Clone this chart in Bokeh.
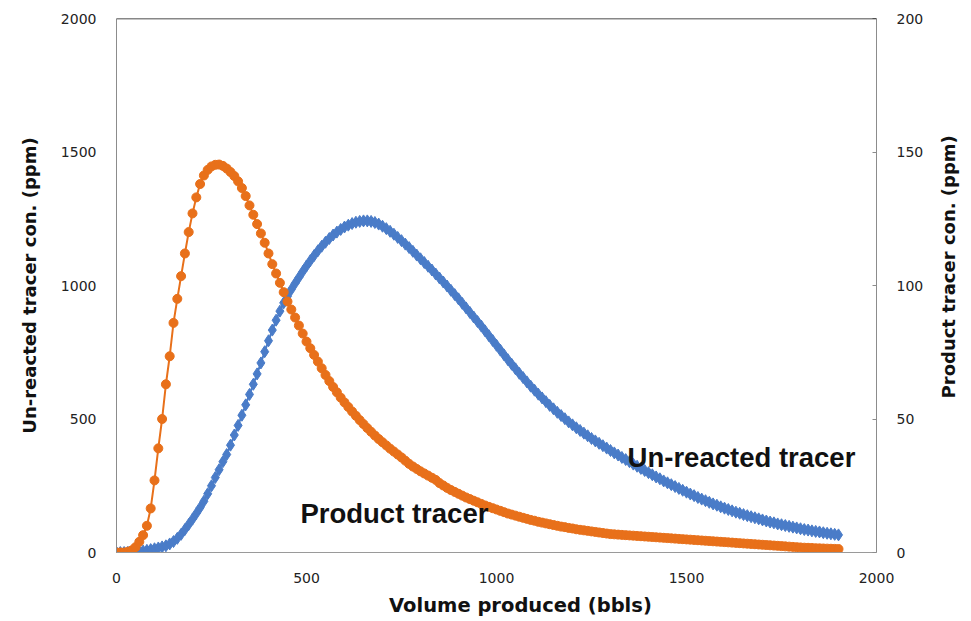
import math
from bokeh.plotting import figure
from bokeh.models import LinearAxis, Range1d, Label, Span, FixedTicker
from bokeh.embed import file_html
from bokeh.resources import INLINE

# ---- data ----
volume = [0, 10, 20, 30, 40, 50, 60, 70, 80, 90,
          100, 110, 120, 130, 140, 150, 160, 170, 180, 190,
          200, 210, 220, 230, 240, 250, 260, 270, 280, 290,
          300, 310, 320, 330, 340, 350, 360, 370, 380, 390,
          400, 410, 420, 430, 440, 450, 460, 470, 480, 490,
          500, 510, 520, 530, 540, 550, 560, 570, 580, 590,
          600, 610, 620, 630, 640, 650, 660, 670, 680, 690,
          700, 710, 720, 730, 740, 750, 760, 770, 780, 790,
          800, 810, 820, 830, 840, 850, 860, 870, 880, 890,
          900, 910, 920, 930, 940, 950, 960, 970, 980, 990,
          1000, 1010, 1020, 1030, 1040, 1050, 1060, 1070, 1080, 1090,
          1100, 1110, 1120, 1130, 1140, 1150, 1160, 1170, 1180, 1190,
          1200, 1210, 1220, 1230, 1240, 1250, 1260, 1270, 1280, 1290,
          1300, 1310, 1320, 1330, 1340, 1350, 1360, 1370, 1380, 1390,
          1400, 1410, 1420, 1430, 1440, 1450, 1460, 1470, 1480, 1490,
          1500, 1510, 1520, 1530, 1540, 1550, 1560, 1570, 1580, 1590,
          1600, 1610, 1620, 1630, 1640, 1650, 1660, 1670, 1680, 1690,
          1700, 1710, 1720, 1730, 1740, 1750, 1760, 1770, 1780, 1790,
          1800, 1810, 1820, 1830, 1840, 1850, 1860, 1870, 1880, 1890,
          1900]

# Un-reacted tracer concentration, ppm (left axis)
unreacted = [0, 0, 0, 0.5, 1, 2, 3.5, 5.5, 8, 11,
             14, 17, 21, 25, 32, 41, 53, 68, 86, 105,
             125, 146, 168, 192, 220, 250, 281, 310, 340, 367,
             402, 440, 476, 514, 553, 592, 630, 669, 710, 752,
             793, 833, 870, 904, 935, 960, 985, 1008, 1030, 1052,
             1073, 1093, 1112, 1130, 1147, 1162, 1176, 1189, 1200, 1210,
             1219, 1226, 1232, 1237, 1240, 1242, 1242, 1240, 1236, 1230,
             1222, 1213, 1203, 1192, 1180, 1168, 1155, 1142, 1128, 1114,
             1100, 1086, 1072, 1058, 1043, 1028, 1013, 998, 982, 966,
             950, 933, 916, 899, 882, 865, 848, 830, 812, 794,
             776, 758, 740, 722, 705, 688, 671, 655, 639, 623,
             608, 593, 579, 565, 551, 538, 525, 513, 501, 489,
             478, 467, 457, 447, 437, 427, 418, 409, 400, 391,
             382, 373, 365, 356, 348, 340, 331, 323, 315, 307,
             299, 291, 283, 276, 268, 261, 254, 247, 240, 233,
             226, 219, 213, 206, 200, 194, 188, 182, 177, 171,
             166, 161, 156, 151, 147, 142, 138, 134, 130, 126,
             122, 118, 114, 111, 107, 104, 101, 98, 95, 92,
             89, 86, 84, 81, 79, 77, 74, 72, 70, 68,
             66]

# Product tracer concentration, ppm (right axis)
product = [0, 0, 0, 0.3, 0.8, 2, 4, 6.5, 10, 16.5,
           27, 39, 50, 63, 73.5, 86, 95, 103.5, 112, 120,
           127, 133, 138, 141.2, 143.3, 144.6, 145.2, 145.3, 144.8, 143.8,
           142.5, 141, 139, 136.5, 133.5, 130, 126.5, 123, 119.5, 116,
           112, 108, 104.5, 101, 97.5, 94, 91, 88, 85, 82,
           79, 76.5, 74, 71.5, 69, 66.5, 64.2, 62, 60, 58,
           56.2, 54.5, 52.8, 51.2, 49.6, 48.1, 46.6, 45.2, 43.8, 42.5,
           41.3, 40.1, 38.9, 37.8, 36.7, 35.6, 34.4, 33.2, 32.2, 31.3,
           30.4, 29.6, 28.8, 28.0, 27.2, 26.0, 25.1, 24.2, 23.4, 22.7,
           22.0, 21.3, 20.6, 20.0, 19.4, 18.8, 18.2, 17.6, 17.1, 16.6,
           16.1, 15.6, 15.1, 14.6, 14.2, 13.8, 13.4, 13.0, 12.6, 12.2,
           11.9, 11.5, 11.2, 10.9, 10.6, 10.3, 10.0, 9.7, 9.5, 9.2,
           9.0, 8.7, 8.5, 8.3, 8.1, 7.9, 7.7, 7.5, 7.3, 7.1,
           6.9, 6.8, 6.7, 6.6, 6.5, 6.4, 6.3, 6.2, 6.1, 6.0,
           5.9, 5.8, 5.7, 5.6, 5.5, 5.4, 5.3, 5.2, 5.1, 5.0,
           4.9, 4.8, 4.7, 4.6, 4.5, 4.4, 4.3, 4.2, 4.1, 4.0,
           3.9, 3.8, 3.7, 3.6, 3.5, 3.4, 3.3, 3.2, 3.1, 3.0,
           2.9, 2.8, 2.7, 2.6, 2.5, 2.4, 2.3, 2.2, 2.1, 2.0,
           1.9, 1.8, 1.75, 1.7, 1.6, 1.55, 1.5, 1.45, 1.4, 1.35,
           1.3]

x_ticks = [0, 500, 1000, 1500, 2000]
left_ticks = [0, 500, 1000, 1500, 2000]
right_ticks = [0, 50, 100, 150, 200]

BLUE = "#4a7cc8"
ORANGE = "#e8701a"
TICK_FONT = "DejaVu Sans"
LABEL_FONT = "DejaVu Sans"

p = figure(frame_width=760, frame_height=534,
           x_range=Range1d(0, 2000), y_range=Range1d(0, 2000),
           output_backend="svg", toolbar_location=None,
           min_border_left=116, min_border_right=90,
           min_border_top=18, min_border_bottom=66,
           background_fill_color="white", border_fill_color="white")
p.extra_y_ranges = {"right": Range1d(0, 200)}
p.xgrid.visible = False
p.ygrid.visible = False
p.outline_line_color = None

# x axis
xa = p.xaxis[0]
xa.ticker = FixedTicker(ticks=x_ticks)
xa.major_tick_line_color = None
xa.minor_tick_line_color = None
xa.axis_line_color = "#9a9a9a"
xa.major_label_standoff = 14
xa.major_label_text_font = TICK_FONT
xa.major_label_text_font_size = "14px"
xa.major_label_text_color = "#222222"

# x axis title (slightly right of centre, as in the reference), in the bottom panel
p.add_layout(Label(x=1063, y=-198, text="Volume produced (bbls)",
                   text_font=LABEL_FONT, text_font_style="bold", text_font_size="19.5px",
                   text_color="#111111", text_align="center", text_baseline="middle"),
             "below")

# left axis
ya = p.yaxis[0]
ya.ticker = FixedTicker(ticks=left_ticks)
ya.axis_label = "Un-reacted tracer con. (ppm)"
ya.major_tick_line_color = None
ya.minor_tick_line_color = None
ya.axis_line_color = "#8c8c8c"
ya.major_label_standoff = 14
ya.major_label_text_font = TICK_FONT
ya.major_label_text_font_size = "14px"
ya.major_label_text_color = "#222222"
ya.axis_label_text_font = LABEL_FONT
ya.axis_label_text_font_size = "18px"
ya.axis_label_text_font_style = "bold"
ya.axis_label_text_color = "#111111"
ya.axis_label_standoff = 18

# right axis
ra = LinearAxis(y_range_name="right", ticker=FixedTicker(ticks=right_ticks))
ra.major_tick_in = 4
ra.major_tick_out = 0
ra.major_tick_line_color = "#8c8c8c"
ra.minor_tick_line_color = None
ra.axis_line_color = "#8c8c8c"
ra.major_label_standoff = 20
ra.major_label_text_font = TICK_FONT
ra.major_label_text_font_size = "14px"
ra.major_label_text_color = "#222222"
p.add_layout(ra, "right")

# right axis title (reads bottom-to-top), placed in the right side panel so it is not clipped
p.add_layout(Label(x=2190, y=1070, text="Product tracer con. (ppm)", angle=math.pi / 2,
                   text_font=LABEL_FONT, text_font_style="bold", text_font_size="18px",
                   text_color="#111111", text_align="center", text_baseline="middle"),
             "right")

# top border line
p.add_layout(Span(location=2000, dimension="width", line_color="#111111", line_width=1.5))

# un-reacted tracer (left axis)
p.line(volume, unreacted, line_color=BLUE, line_width=2)
p.scatter(volume, unreacted, marker="diamond", size=12, fill_color=BLUE, line_color=BLUE)

# product tracer (right axis)
p.line(volume, product, line_color=ORANGE, line_width=2, y_range_name="right")
p.scatter(volume, product, marker="circle", size=9, fill_color=ORANGE, line_color=ORANGE,
          y_range_name="right")

# annotations
p.add_layout(Label(x=1345, y=354, text="Un-reacted tracer", text_font="Liberation Sans",
                   text_font_style="bold", text_font_size="27.5px", text_color="#111111",
                   text_baseline="middle", text_align="left"))
p.add_layout(Label(x=484, y=146, text="Product tracer", text_font="Liberation Sans",
                   text_font_style="bold", text_font_size="27.5px", text_color="#111111",
                   text_baseline="middle", text_align="left"))

open("out.html", "w").write(file_html(p, INLINE))
